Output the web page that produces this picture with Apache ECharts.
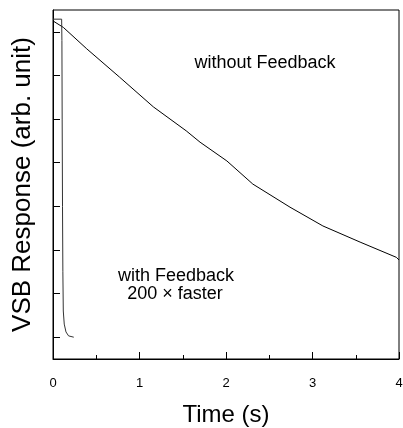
<!DOCTYPE html>
<html>
<head>
<meta charset="utf-8">
<script src="https://cdn.jsdelivr.net/npm/echarts@6/dist/echarts.min.js"></script>
<style>
html, body { margin: 0; padding: 0; background: #fff; }
#main { width: 403px; height: 428px; }
</style>
</head>
<body>
<div id="main"></div>
<script>
// 无反馈曲线 (时间 s, 响应)
var noFbTime = [0, 0.12, 0.39, 0.77, 1.16, 1.54, 1.70, 2.01, 2.31, 2.74, 3.12, 3.55, 3.97, 4.0];
var noFbResp = [7.25, 7.10, 6.61, 5.96, 5.28, 4.73, 4.47, 4.04, 3.51, 2.98, 2.55, 2.18, 1.83, 1.77];

// 有反馈曲线
var fbTime = [0, 0.10, 0.103, 0.106, 0.11, 0.114, 0.119, 0.13, 0.15, 0.18, 0.24];
var fbResp = [7.29, 7.29, 6.8, 5.0, 3.0, 1.5, 0.6, 0.3, 0.12, 0.03, 0.0];

var xTickLabels = ['0', '1', '2', '3', '4'];
var yTicks = [0, 1, 2, 3, 4, 5, 6, 7];

function pairs(xs, ys) {
	return xs.map(function(x, i) { return [x, ys[i]]; });
}

var chart = echarts.init(document.getElementById('main'));
var font = 'Liberation Sans, Arial, sans-serif';

function label(text, x, y) {
	return {
		type: 'text', x: x, y: y,
		style: { text: text, font: '18px ' + font, fill: '#000', align: 'center', verticalAlign: 'middle' }
	};
}

chart.setOption({
	animation: false,
	grid: {
		left: 53, right: 4, top: 10, bottom: 69,
		outerBoundsMode: 'none',
		containLabel: false,
		show: true, borderColor: '#000', borderWidth: 1
	},
	xAxis: {
		type: 'value',
		min: 0, max: 4, interval: 1,
		name: 'Time (s)',
		nameLocation: 'middle',
		nameGap: 44,
		nameTextStyle: { fontFamily: font, fontSize: 24, color: '#000' },
		axisLine: { onZero: false, lineStyle: { color: '#000', width: 1 } },
		axisTick: { inside: true, length: 7, lineStyle: { color: '#000' } },
		minorTick: { show: true, splitNumber: 2, length: 4, lineStyle: { color: '#000' } },
		splitLine: { show: false },
		axisLabel: {
			margin: 18, fontFamily: font, fontSize: 13, color: '#000',
			formatter: function(v) { return xTickLabels[v] !== undefined ? xTickLabels[v] : ''; }
		}
	},
	yAxis: {
		type: 'value',
		min: -0.5, max: 7.5,
		name: 'VSB Response (arb. unit)',
		nameLocation: 'middle',
		nameGap: 17,
		nameTextStyle: { fontFamily: font, fontSize: 26, color: '#000' },
		axisLine: { show: true, onZero: false, lineStyle: { color: '#000', width: 1 } },
		axisTick: { inside: true, length: 7, customValues: yTicks, lineStyle: { color: '#000' } },
		splitLine: { show: false },
		axisLabel: { show: false }
	},
	graphic: [
		label('without Feedback', 265, 63),
		label('with Feedback', 176, 276),
		label('200 \u00d7 faster', 175, 294)
	],
	series: [
		{
			name: 'without Feedback',
			type: 'line',
			data: pairs(noFbTime, noFbResp),
			showSymbol: false,
			lineStyle: { color: '#000', width: 1 }
		},
		{
			name: 'with Feedback',
			type: 'line',
			data: pairs(fbTime, fbResp),
			showSymbol: false,
			lineStyle: { color: '#333', width: 1 }
		}
	]
});
</script>
</body>
</html>
